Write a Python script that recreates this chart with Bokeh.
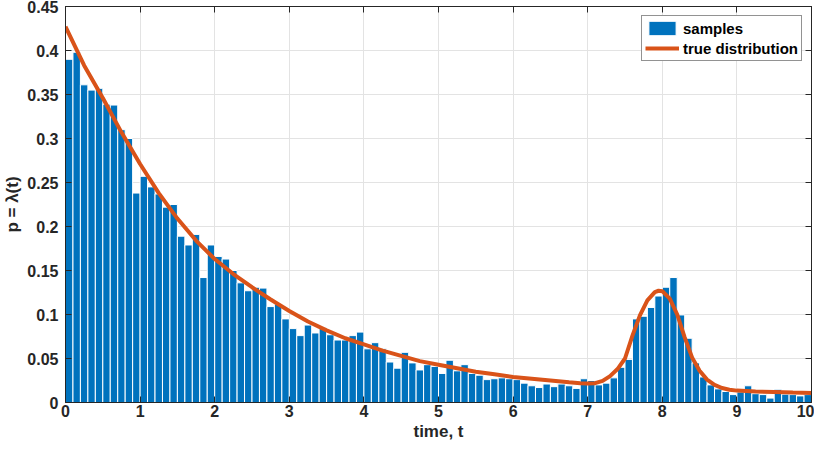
from bokeh.plotting import figure
from bokeh.models import (Range1d, FixedTicker, LinearAxis, Legend, LegendItem,
                          CustomLabelingPolicy)
from bokeh.embed import file_html
from bokeh.resources import INLINE

# ---- data ----
bin_width = 0.1
bin_centers = [round(0.05 + 0.1 * i, 2) for i in range(100)]
sample_heights = [
    0.390, 0.398, 0.361, 0.355, 0.357, 0.339, 0.338, 0.310, 0.300, 0.238,
    0.257, 0.245, 0.237, 0.222, 0.225, 0.189, 0.179, 0.191, 0.142, 0.179,
    0.166, 0.163, 0.150, 0.136, 0.127, 0.131, 0.130, 0.109, 0.112, 0.095,
    0.084, 0.076, 0.088, 0.079, 0.085, 0.077, 0.071, 0.071, 0.076, 0.080,
    0.061, 0.068, 0.061, 0.046, 0.039, 0.057, 0.045, 0.037, 0.043, 0.041,
    0.033, 0.048, 0.036, 0.043, 0.033, 0.031, 0.026, 0.027, 0.028, 0.027,
    0.026, 0.022, 0.019, 0.017, 0.021, 0.018, 0.021, 0.019, 0.016, 0.027,
    0.025, 0.020, 0.022, 0.028, 0.040, 0.049, 0.095, 0.098, 0.108, 0.121,
    0.131, 0.142, 0.0995, 0.073, 0.045, 0.029, 0.020, 0.0155, 0.0125, 0.009,
    0.012, 0.019, 0.010, 0.009, 0.005, 0.015, 0.0095, 0.009, 0.0075, 0.009,
]
curve_t = [0.0, 0.25, 0.5, 0.75, 1.0, 1.25, 1.5, 1.75, 2.0, 2.25, 2.5, 2.75,
           3.0, 3.25, 3.5, 3.75, 4.0, 4.25, 4.5, 4.75, 5.0, 5.25, 5.5, 5.75,
           6.0, 6.25, 6.5, 6.75, 6.9, 7.0, 7.1, 7.2, 7.3, 7.4, 7.5, 7.6, 7.7,
           7.8, 7.9, 7.95, 8.0, 8.1, 8.2, 8.3, 8.4, 8.5, 8.6, 8.7, 8.8, 8.9,
           9.0, 9.25, 9.5, 9.75, 10.0]
curve_p = [0.427, 0.383, 0.346, 0.307, 0.271, 0.238, 0.209, 0.184, 0.163, 0.146,
           0.131, 0.117, 0.104, 0.092, 0.082, 0.073, 0.066, 0.059, 0.053, 0.047,
           0.043, 0.039, 0.035, 0.032, 0.029, 0.027, 0.025, 0.023, 0.022, 0.0215,
           0.022, 0.0245, 0.030, 0.038, 0.050, 0.076, 0.099, 0.116, 0.1255, 0.127,
           0.1265, 0.118, 0.100, 0.074, 0.051, 0.036, 0.026, 0.020, 0.0165, 0.0145,
           0.0135, 0.0125, 0.012, 0.0113, 0.0108]
x_ticks = [0, 1, 2, 3, 4, 5, 6, 7, 8, 9, 10]
x_tick_labels = ["0", "1", "2", "3", "4", "5", "6", "7", "8", "9", "10"]
y_ticks = [0, 0.05, 0.1, 0.15, 0.2, 0.25, 0.3, 0.35, 0.4, 0.45]
y_tick_labels = ["0", "0.05", "0.1", "0.15", "0.2", "0.25", "0.3", "0.35", "0.4", "0.45"]

FONT = "Liberation Sans"
AX = "#262626"
BLUE = "#0072BD"
ORANGE = "#D95319"

p = figure(width=814, height=443, output_backend="svg", toolbar_location=None,
           x_range=Range1d(0, 10), y_range=Range1d(0, 0.45),
           x_axis_label="time, t", y_axis_label="p = λ(t)",
           min_border_left=50, min_border_right=3, min_border_top=6,
           min_border_bottom=40)
p.background_fill_color = "white"
p.border_fill_color = "white"
p.outline_line_color = AX
p.outline_line_width = 1

bars = p.vbar(x=bin_centers, top=sample_heights, width=bin_width, bottom=0,
              fill_color=BLUE, line_color="white", line_width=1)
curve = p.line(curve_t, curve_p, line_color=ORANGE, line_width=4)

xt = FixedTicker(ticks=x_ticks)
yt = FixedTicker(ticks=y_ticks)

for ax, ticker, labels in ((p.xaxis[0], xt, x_tick_labels), (p.yaxis[0], yt, y_tick_labels)):
    ax.ticker = ticker
    ax.major_label_overrides = dict(zip(ticker.ticks, labels))
    ax.major_tick_in = 6
    ax.major_tick_out = 0
    ax.minor_tick_line_color = None
    ax.axis_line_color = AX
    ax.major_tick_line_color = AX
    ax.major_label_text_font = FONT
    ax.major_label_text_font_style = "bold"
    ax.major_label_text_font_size = "16px"
    ax.major_label_text_color = AX
    ax.axis_label_text_font = FONT
    ax.axis_label_text_font_style = "bold"
    ax.axis_label_text_font_size = "17px"
    ax.axis_label_text_color = AX

p.xaxis[0].major_label_standoff = 2
p.xaxis[0].axis_label_standoff = 2
p.yaxis[0].major_label_standoff = 7
p.yaxis[0].axis_label_standoff = 2

hide_all = CustomLabelingPolicy(code="""
    for (const i of Array.from(indices)) indices.unset(i)
    return indices
""")

# box ticks on the top and right sides (ticks pointing inward, no labels)
for ticker, side in ((xt, "above"), (yt, "right")):
    a = LinearAxis(ticker=ticker, major_tick_in=0, major_tick_out=-6,
                   minor_tick_line_color=None, axis_line_color=AX,
                   major_tick_line_color=AX, major_label_standoff=0,
                   major_label_text_font_size="0px",
                   major_label_policy=hide_all)
    p.add_layout(a, side)

p.xgrid.ticker = xt
p.ygrid.ticker = yt
p.xgrid.grid_line_color = "#e3e3e3"
p.ygrid.grid_line_color = "#e3e3e3"

legend = Legend(items=[LegendItem(label="samples", renderers=[bars]),
                       LegendItem(label="true distribution", renderers=[curve])],
                location="top_right", margin=9, padding=3, spacing=2,
                glyph_width=34, glyph_height=18, label_height=18, label_standoff=4,
                label_text_font=FONT, label_text_font_style="bold",
                label_text_font_size="15px", label_text_color="black",
                border_line_color=AX, border_line_width=1,
                background_fill_color="white", background_fill_alpha=1.0)
p.add_layout(legend)

open("out.html", "w").write(file_html(p, INLINE))
